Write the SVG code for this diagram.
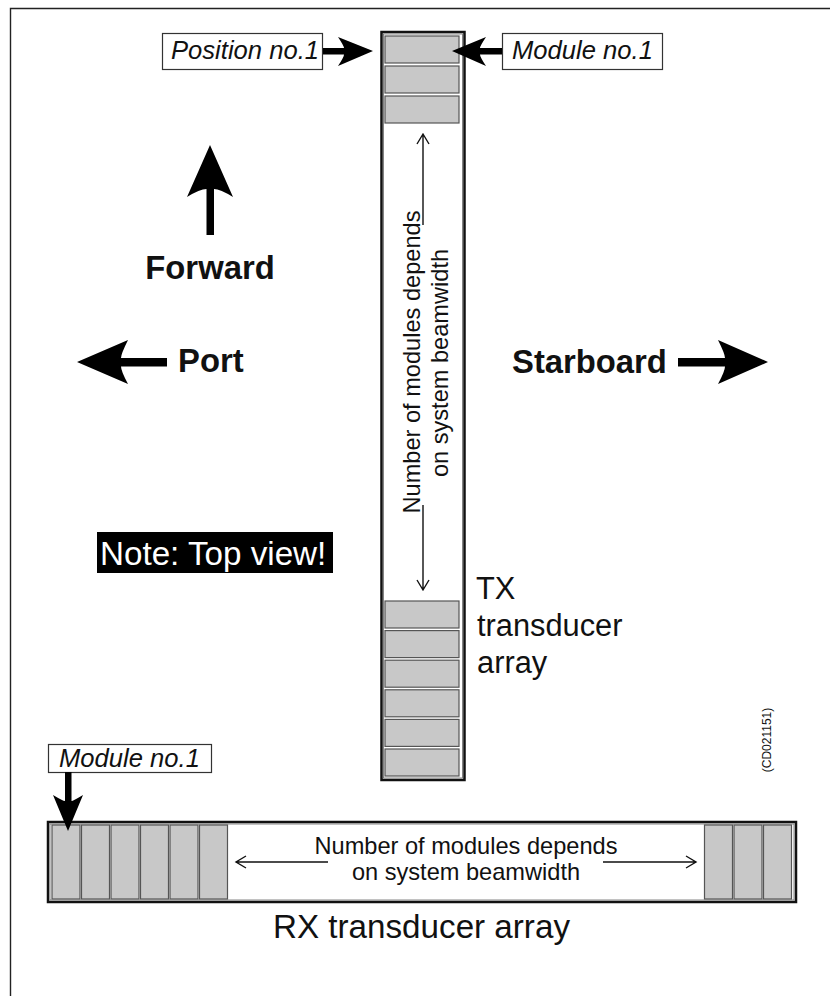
<svg xmlns="http://www.w3.org/2000/svg" width="830" height="996" viewBox="0 0 830 996">
<defs>
<style>
.t{font-family:"Liberation Sans",Arial,sans-serif;fill:#111}
.b{font-weight:bold;font-size:32.8px}
.lbl{font-style:italic;font-size:25.6px}
.box{fill:#fff;stroke:#333;stroke-width:1.2}
.mod{fill:#c8c8c8;stroke:#555;stroke-width:1.2}
.outer{fill:#fff;stroke:#111;stroke-width:2.5}
.inner{fill:none;stroke:#666;stroke-width:0.8}
.thin{fill:none;stroke:#111;stroke-width:1.4}
.bold{fill:#000;stroke:none}
</style>
</defs>
<rect width="830" height="996" fill="#fff"/>
<g id="frame"><path d="M10.5,996 V8.5 H830" fill="none" stroke="#222" stroke-width="1.4"/></g>

<g id="tx-array">
<rect class="outer" x="381.5" y="32" width="83" height="748"/>
<rect class="inner" x="383.5" y="34" width="79" height="744"/>
<rect class="mod" x="385" y="36" width="74" height="27"/>
<rect class="mod" x="385" y="66" width="74" height="27"/>
<rect class="mod" x="385" y="96" width="74" height="27"/>
<rect class="mod" x="385" y="601" width="74" height="27"/>
<rect class="mod" x="385" y="630.6" width="74" height="27"/>
<rect class="mod" x="385" y="660.2" width="74" height="27"/>
<rect class="mod" x="385" y="689.8" width="74" height="27"/>
<rect class="mod" x="385" y="719.4" width="74" height="27"/>
<rect class="mod" x="385" y="749" width="74" height="27"/>
<text class="t" font-size="23.6" text-anchor="middle" transform="translate(420,362) rotate(-90)">Number of modules depends</text>
<text class="t" font-size="23.6" text-anchor="middle" transform="translate(448,363) rotate(-90)">on system beamwidth</text>
</g>
<g id="tx-label">
<text class="t" font-size="30.8" x="476" y="599">TX</text>
<text class="t" font-size="30.8" x="477" y="636">transducer</text>
<text class="t" font-size="30.8" x="477" y="673">array</text>
</g>

<g id="rx-array">
<rect class="outer" x="48" y="822" width="748" height="80"/>
<rect class="inner" x="50" y="824" width="744" height="76"/>
<rect class="mod" x="52" y="825" width="28" height="74"/>
<rect class="mod" x="81.5" y="825" width="28" height="74"/>
<rect class="mod" x="111" y="825" width="28" height="74"/>
<rect class="mod" x="140.5" y="825" width="28" height="74"/>
<rect class="mod" x="170" y="825" width="28" height="74"/>
<rect class="mod" x="199.5" y="825" width="28" height="74"/>
<rect class="mod" x="704.5" y="825" width="28" height="74"/>
<rect class="mod" x="734" y="825" width="28" height="74"/>
<rect class="mod" x="763.5" y="825" width="28" height="74"/>
<text class="t" font-size="23.6" text-anchor="middle" x="466" y="854">Number of modules depends</text>
<text class="t" font-size="23.6" text-anchor="middle" x="466" y="880">on system beamwidth</text>
</g>
<g id="rx-label"><text class="t" font-size="33.2" text-anchor="middle" x="421.5" y="938">RX transducer array</text></g>

<g id="position-label"><rect class="box" x="162.5" y="33.5" width="160" height="36"/><text class="t lbl" x="171" y="59">Position no.1</text></g>
<g id="module-label-tx"><rect class="box" x="502.5" y="33.5" width="160" height="36"/><text class="t lbl" x="512" y="59">Module no.1</text></g>
<g id="module-label-rx"><rect class="box" x="48.5" y="744.5" width="163" height="28"/><text class="t lbl" x="59" y="767">Module no.1</text></g>

<g id="forward"><text class="t b" text-anchor="middle" x="210" y="279">Forward</text></g>
<g id="port"><text class="t b" x="178" y="372">Port</text></g>
<g id="starboard"><text class="t b" x="512" y="373">Starboard</text></g>
<g id="note"><rect x="97" y="532" width="236" height="41" fill="#000"/><text font-family="Liberation Sans,Arial,sans-serif" font-size="33.2" fill="#fff" x="100" y="565">Note: Top view!</text></g>
<g id="code"><text class="t" font-size="12" text-anchor="middle" transform="translate(771,740) rotate(-90)">(CD021151)</text></g>

<g id="connectors">
<path class="thin" d="M423,134 V225 M417,144 L423,134 L429,144"/>
<path class="thin" d="M423,505 V590 M417,580 L423,590 L429,580"/>
<path class="thin" d="M236,862 H328 M246,856 L236,862 L246,868"/>
<path class="thin" d="M603,862 H696 M686,856 L696,862 L686,868"/>
<path class="bold" d="M210,145 L233,197 Q220,189 214,189 L214,235 L206.5,235 L206.5,189 Q200,189 187,197 Z"/>
<path class="bold" d="M77,362 L128,340 Q121,354 121,358 L167,358 L167,366.5 L121,366.5 Q121,371 128,384 Z"/>
<path class="bold" d="M768,362 L718,340 Q725,354 725,358 L678,358 L678,366.5 L725,366.5 Q725,371 718,384 Z"/>
<path class="bold" d="M373,51 L338,37 Q344,46 344,48 L323,48 L323,54.5 L344,54.5 Q344,57 338,66 Z"/>
<path class="bold" d="M452,51 L486,37 Q480,46 480,48 L502,48 L502,54.5 L480,54.5 Q480,57 486,66 Z"/>
<path class="bold" d="M68,831 L53,795 Q63,801 65,801 L65,772 L71.5,772 L71.5,801 Q73,801 83,795 Z"/>
</g>
</svg>
